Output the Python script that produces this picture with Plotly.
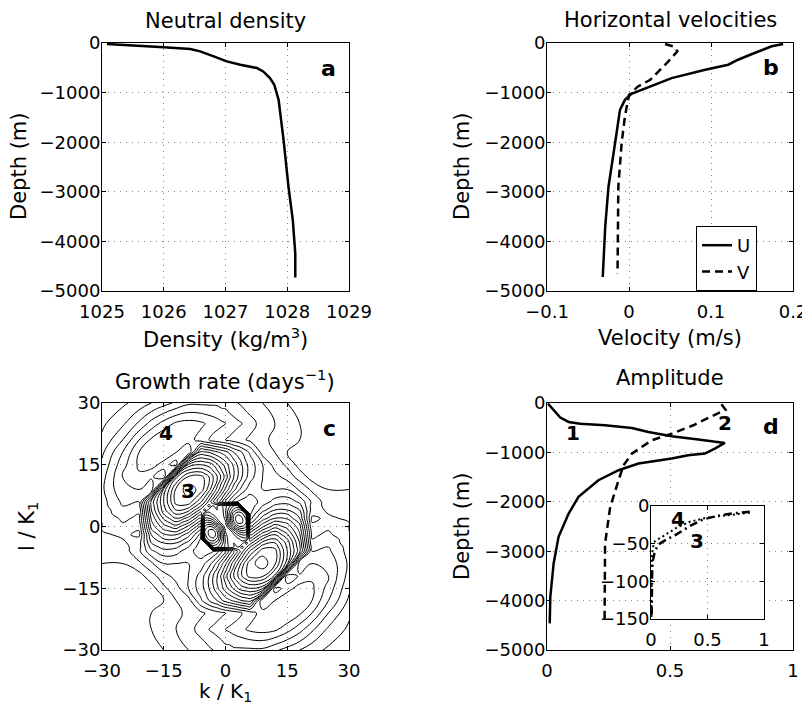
import plotly.graph_objects as go

# ---- panel a: neutral density profile
depth_a = [-20, -47, -88, -121, -168, -270, -370, -438, -505, -573, -708, -842,
           -1146, -1954, -2898, -3571, -4245, -4730]
density = [1025.08, 1025.51, 1026.0, 1026.43, 1026.59, 1026.81, 1027.02, 1027.24,
           1027.51, 1027.61, 1027.72, 1027.79, 1027.86, 1027.94, 1028.02, 1028.09,
           1028.13, 1028.13]

# ---- panel b: horizontal velocities
depth_u = [-20, -67, -202, -337, -438, -539, -708, -910, -1024, -1146, -1348, -2022,
           -2898, -3706, -4717]
u_vel = [0.188, 0.174, 0.153, 0.133, 0.121, 0.093, 0.052, 0.020, 0.003, -0.005,
         -0.011, -0.017, -0.025, -0.029, -0.032]
depth_v = [-20, -67, -168, -371, -741, -876, -1045, -1482, -2022, -2898, -4650]
v_vel = [0.044, 0.054, 0.059, 0.048, 0.026, 0.011, 0.000, -0.005, -0.009, -0.013, -0.014]

# ---- panel c: growth rate on the (k, l) plane
k_grid = [-30, -25, -21, -18, -15, -12, -9, -6, -5, -4, -3, -2, -1, 0,
          1, 2, 3, 4, 5, 6, 9, 12, 15, 18, 21, 25, 30]
l_grid = [-30, -25, -21, -18, -15, -12, -9, -6, -5, -4, -3, -2, -1, 0,
          1, 2, 3, 4, 5, 6, 9, 12, 15, 18, 21, 25, 30]
growth = [
    [0.08, 0.08, 0.09, 0.09, 0.10, 0.12, 0.15, 0.17, 0.18, 0.19, 0.20, 0.21, 0.22, 0.23, 0.23, 0.24, 0.24, 0.24, 0.24, 0.24, 0.24, 0.21, 0.18, 0.15, 0.12, 0.09, 0.08],
    [0.08, 0.08, 0.09, 0.10, 0.12, 0.15, 0.18, 0.22, 0.23, 0.25, 0.26, 0.27, 0.28, 0.30, 0.31, 0.32, 0.33, 0.34, 0.35, 0.36, 0.37, 0.36, 0.32, 0.27, 0.21, 0.14, 0.09],
    [0.08, 0.08, 0.09, 0.10, 0.12, 0.14, 0.16, 0.19, 0.20, 0.21, 0.22, 0.23, 0.24, 0.25, 0.26, 0.27, 0.28, 0.30, 0.31, 0.33, 0.37, 0.39, 0.40, 0.36, 0.30, 0.20, 0.11],
    [0.08, 0.08, 0.08, 0.09, 0.10, 0.15, 0.18, 0.29, 0.32, 0.35, 0.38, 0.40, 0.44, 0.47, 0.49, 0.51, 0.53, 0.55, 0.56, 0.57, 0.30, 0.35, 0.39, 0.39, 0.35, 0.25, 0.14],
    [0.08, 0.08, 0.08, 0.08, 0.14, 0.18, 0.25, 0.33, 0.36, 0.40, 0.44, 0.49, 0.53, 0.58, 0.62, 0.66, 0.70, 0.73, 0.74, 0.75, 0.72, 0.27, 0.33, 0.37, 0.36, 0.28, 0.16],
    [0.09, 0.09, 0.08, 0.13, 0.18, 0.22, 0.25, 0.32, 0.36, 0.40, 0.45, 0.50, 0.56, 0.63, 0.69, 0.75, 0.80, 0.85, 0.89, 0.92, 0.91, 0.79, 0.25, 0.31, 0.34, 0.30, 0.18],
    [0.10, 0.10, 0.14, 0.19, 0.25, 0.25, 0.25, 0.27, 0.30, 0.33, 0.37, 0.42, 0.48, 0.54, 0.61, 0.68, 0.75, 0.82, 0.88, 0.93, 0.98, 0.91, 0.72, 0.25, 0.30, 0.29, 0.19],
    [0.11, 0.12, 0.19, 0.29, 0.33, 0.32, 0.27, 0.22, 0.22, 0.23, 0.25, 0.28, 0.33, 0.40, 0.47, 0.54, 0.61, 0.68, 0.75, 0.81, 0.93, 0.92, 0.75, 0.57, 0.25, 0.26, 0.18],
    [0.12, 0.13, 0.18, 0.32, 0.37, 0.36, 0.30, 0.22, 0.21, 0.20, 0.91, 0.90, 0.84, 0.78, 0.73, 0.70, 0.70, 0.63, 0.69, 0.75, 0.88, 0.89, 0.74, 0.56, 0.23, 0.25, 0.18],
    [0.12, 0.14, 0.18, 0.35, 0.40, 0.40, 0.33, 0.23, 0.20, 0.99, 1.01, 0.97, 0.89, 0.79, 0.72, 0.70, 0.71, 0.73, 0.63, 0.68, 0.82, 0.85, 0.73, 0.55, 0.21, 0.24, 0.17],
    [0.13, 0.15, 0.16, 0.38, 0.45, 0.45, 0.38, 0.25, 0.99, 1.07, 1.09, 1.04, 0.92, 0.79, 0.71, 0.71, 0.74, 0.77, 0.78, 0.61, 0.75, 0.80, 0.70, 0.53, 0.20, 0.23, 0.17],
    [0.14, 0.16, 0.14, 0.40, 0.49, 0.50, 0.42, 0.28, 1.04, 1.11, 1.14, 1.07, 0.92, 0.77, 0.70, 0.74, 0.81, 0.85, 0.85, 0.54, 0.68, 0.75, 0.66, 0.51, 0.19, 0.21, 0.16],
    [0.15, 0.18, 0.15, 0.44, 0.54, 0.57, 0.48, 0.33, 1.05, 1.11, 1.12, 1.04, 0.90, 0.74, 0.72, 0.82, 0.91, 0.95, 0.93, 0.47, 0.61, 0.69, 0.62, 0.49, 0.18, 0.20, 0.15],
    [0.15, 0.19, 0.16, 0.47, 0.58, 0.63, 0.54, 0.40, 1.00, 1.05, 1.03, 0.95, 0.84, 0.70, 0.84, 0.95, 1.03, 1.05, 1.00, 0.40, 0.54, 0.63, 0.58, 0.47, 0.16, 0.19, 0.15],
    [0.15, 0.20, 0.18, 0.49, 0.62, 0.69, 0.61, 0.47, 0.93, 0.95, 0.91, 0.82, 0.72, 0.74, 0.90, 1.04, 1.12, 1.11, 1.05, 0.33, 0.48, 0.57, 0.54, 0.44, 0.15, 0.18, 0.15],
    [0.16, 0.21, 0.19, 0.51, 0.66, 0.75, 0.68, 0.54, 0.85, 0.85, 0.81, 0.74, 0.70, 0.77, 0.92, 1.07, 1.14, 1.11, 1.04, 0.28, 0.42, 0.50, 0.49, 0.40, 0.14, 0.16, 0.14],
    [0.17, 0.23, 0.20, 0.53, 0.70, 0.80, 0.75, 0.61, 0.78, 0.77, 0.74, 0.71, 0.71, 0.79, 0.92, 1.04, 1.09, 1.07, 0.99, 0.25, 0.38, 0.45, 0.45, 0.38, 0.16, 0.15, 0.13],
    [0.17, 0.24, 0.21, 0.55, 0.73, 0.85, 0.82, 0.68, 0.63, 0.73, 0.71, 0.70, 0.72, 0.79, 0.89, 0.97, 1.01, 0.99, 0.20, 0.23, 0.33, 0.40, 0.40, 0.35, 0.18, 0.14, 0.12],
    [0.18, 0.25, 0.23, 0.56, 0.74, 0.89, 0.88, 0.75, 0.69, 0.63, 0.70, 0.70, 0.73, 0.78, 0.84, 0.90, 0.91, 0.20, 0.21, 0.22, 0.30, 0.36, 0.37, 0.32, 0.18, 0.13, 0.12],
    [0.18, 0.26, 0.25, 0.57, 0.75, 0.92, 0.93, 0.81, 0.75, 0.68, 0.61, 0.54, 0.47, 0.40, 0.33, 0.28, 0.25, 0.23, 0.22, 0.22, 0.27, 0.32, 0.33, 0.29, 0.19, 0.12, 0.11],
    [0.19, 0.29, 0.30, 0.25, 0.72, 0.91, 0.98, 0.93, 0.88, 0.82, 0.75, 0.68, 0.61, 0.54, 0.48, 0.42, 0.37, 0.33, 0.30, 0.27, 0.25, 0.25, 0.25, 0.19, 0.14, 0.10, 0.10],
    [0.18, 0.30, 0.34, 0.31, 0.25, 0.79, 0.91, 0.92, 0.89, 0.85, 0.80, 0.75, 0.69, 0.63, 0.56, 0.50, 0.45, 0.40, 0.36, 0.32, 0.25, 0.22, 0.18, 0.13, 0.08, 0.09, 0.09],
    [0.16, 0.28, 0.36, 0.37, 0.33, 0.27, 0.72, 0.75, 0.74, 0.73, 0.70, 0.66, 0.62, 0.58, 0.53, 0.49, 0.44, 0.40, 0.36, 0.33, 0.25, 0.18, 0.14, 0.08, 0.08, 0.08, 0.08],
    [0.14, 0.25, 0.35, 0.39, 0.39, 0.35, 0.30, 0.57, 0.56, 0.55, 0.53, 0.51, 0.49, 0.47, 0.44, 0.40, 0.38, 0.35, 0.32, 0.29, 0.18, 0.15, 0.10, 0.09, 0.08, 0.08, 0.08],
    [0.11, 0.20, 0.30, 0.36, 0.40, 0.39, 0.37, 0.33, 0.31, 0.30, 0.28, 0.27, 0.26, 0.25, 0.24, 0.23, 0.22, 0.21, 0.20, 0.19, 0.16, 0.14, 0.12, 0.10, 0.09, 0.08, 0.08],
    [0.09, 0.14, 0.21, 0.27, 0.32, 0.36, 0.37, 0.36, 0.35, 0.34, 0.33, 0.32, 0.31, 0.30, 0.28, 0.27, 0.26, 0.25, 0.23, 0.22, 0.18, 0.15, 0.12, 0.10, 0.09, 0.08, 0.08],
    [0.08, 0.09, 0.12, 0.15, 0.18, 0.21, 0.24, 0.24, 0.24, 0.24, 0.24, 0.24, 0.23, 0.23, 0.22, 0.21, 0.20, 0.19, 0.18, 0.17, 0.15, 0.12, 0.10, 0.09, 0.09, 0.08, 0.08],
]

# ---- panel d: mode amplitudes
depth_m1 = [-13, -148, -296, -384, -418, -451, -505, -586, -674, -741, -809, -923, -1024,
            -1058, -1125, -1226, -1361, -1563, -1900, -2237, -2709, -3248, -3922, -4461]
amp_m1 = [0.004, 0.027, 0.054, 0.088, 0.135, 0.236, 0.345, 0.412, 0.507, 0.615, 0.723,
          0.682, 0.642, 0.574, 0.507, 0.372, 0.291, 0.209, 0.128, 0.088, 0.047, 0.027,
          0.0135, 0.011]
depth_m2 = [-27, -135, -270, -451, -620, -755, -1024, -1260, -1563, -2102, -2844, -3652, -4461]
amp_m2 = [0.709, 0.726, 0.669, 0.595, 0.507, 0.426, 0.345, 0.311, 0.291, 0.257, 0.236,
          0.234, 0.234]

# inset: modes 3 and 4 near the surface
depth_m3 = [-7.5, -9.8, -13.3, -17.8, -26.6, -37.7, -44.4, -51, -60, -73, -95, -149]
amp_m3 = [0.874, 0.726, 0.579, 0.462, 0.344, 0.226, 0.138, 0.065, 0.035, 0.015, 0.009, 0.006]
depth_m4 = [-8.9, -12, -15.5, -20.9, -28.9, -40, -46.6, -55.5, -73, -149]
amp_m4 = [0.874, 0.668, 0.491, 0.344, 0.226, 0.109, 0.035, 0.015, 0.006, 0.003]

FONT = "DejaVu Sans"
# the page body adds an 8px margin, so the figure is 8px smaller and shifted
OFF = 8
W, H = 810 - OFF, 708 - OFF


def px_x(p):
    return (p - OFF) / W


def px_y(p):
    return 1 - (p - OFF) / H


fig = go.Figure()

line_kw = dict(color="black", width=2.5)
fig.add_trace(go.Scatter(x=density, y=depth_a, mode="lines", line=line_kw,
                         showlegend=False, xaxis="x", yaxis="y"))
fig.add_trace(go.Scatter(x=u_vel, y=depth_u, mode="lines", line=line_kw,
                         name="U", xaxis="x2", yaxis="y2"))
fig.add_trace(go.Scatter(x=v_vel, y=depth_v, mode="lines",
                         line=dict(color="black", width=2.5, dash="8px,5px"),
                         name="V", xaxis="x2", yaxis="y2"))
fig.add_trace(go.Contour(x=k_grid, y=l_grid, z=growth,
                         contours=dict(start=0.1, end=1.1, size=0.05, coloring="lines"),
                         line=dict(width=1, smoothing=1.3),
                         colorscale=[[0, "black"], [1, "black"]],
                         showscale=False, hoverinfo="skip",
                         xaxis="x3", yaxis="y3"))
fig.add_trace(go.Scatter(x=amp_m1, y=depth_m1, mode="lines", line=line_kw,
                         showlegend=False, xaxis="x4", yaxis="y4"))
fig.add_trace(go.Scatter(x=amp_m2, y=depth_m2, mode="lines",
                         line=dict(color="black", width=2.5, dash="8px,5px"),
                         showlegend=False, xaxis="x4", yaxis="y4"))
fig.add_trace(go.Scatter(x=amp_m3, y=depth_m3, mode="lines",
                         line=dict(color="black", width=2.5, dash="8px,4px,2px,4px"),
                         showlegend=False, xaxis="x5", yaxis="y5"))
fig.add_trace(go.Scatter(x=amp_m4, y=depth_m4, mode="lines",
                         line=dict(color="black", width=2, dash="2px,3px"),
                         showlegend=False, xaxis="x5", yaxis="y5"))

axis_kw = dict(showline=True, linecolor="black", linewidth=1, mirror="ticks",
               ticks="inside", ticklen=4, tickcolor="black", automargin=False,
               showgrid=True, gridcolor="#808080", gridwidth=1, griddash="1px,5px",
               zeroline=False, tickfont=dict(family=FONT, size=18, color="black"))
xkw = dict(axis_kw, ticklabelstandoff=4)
ykw = dict(axis_kw, ticklabelstandoff=-3)

depth_ticks = [0, -1000, -2000, -3000, -4000, -5000]
depth_text = ["0", "−1000", "−2000", "−3000", "−4000", "−5000"]
kl_ticks = [-30, -15, 0, 15, 30]
kl_text = ["−30", "−15", "0", "15", "30"]

dom_x_left = [px_x(102), px_x(349)]
dom_x_right = [px_x(547), px_x(793)]
dom_y_top = [px_y(291), px_y(43)]
dom_y_bot = [px_y(650), px_y(403)]

fig.update_layout(
    width=W, height=H,
    margin=dict(l=0, r=0, t=0, b=0),
    paper_bgcolor="white", plot_bgcolor="white",
    font=dict(family=FONT, color="black"),
    xaxis=dict(xkw, domain=dom_x_left, anchor="y", range=[1025, 1029],
               tickvals=[1025, 1026, 1027, 1028, 1029]),
    yaxis=dict(ykw, domain=dom_y_top, anchor="x", range=[-5000, 0],
               tickvals=depth_ticks, ticktext=depth_text),
    xaxis2=dict(xkw, domain=dom_x_right, anchor="y2", range=[-0.1, 0.2],
                tickvals=[-0.1, 0, 0.1, 0.2], ticktext=["−0.1", "0", "0.1", "0.2"]),
    yaxis2=dict(ykw, domain=dom_y_top, anchor="x2", range=[-5000, 0],
                tickvals=depth_ticks, ticktext=depth_text),
    xaxis3=dict(xkw, domain=dom_x_left, anchor="y3", range=[-30, 30],
                tickvals=kl_ticks, ticktext=kl_text),
    yaxis3=dict(ykw, domain=dom_y_bot, anchor="x3", range=[-30, 30],
                tickvals=kl_ticks, ticktext=kl_text),
    xaxis4=dict(xkw, domain=dom_x_right, anchor="y4", range=[0, 1],
                tickvals=[0, 0.5, 1], ticktext=["0", "0.5", "1"]),
    yaxis4=dict(ykw, domain=dom_y_bot, anchor="x4", range=[-5000, 0],
                tickvals=depth_ticks, ticktext=depth_text),
    xaxis5=dict(xkw, domain=[px_x(651), px_x(764)], anchor="y5", range=[0, 1],
                tickvals=[0, 0.5, 1], ticktext=["0", "0.5", "1"]),
    yaxis5=dict(ykw, domain=[px_y(619), px_y(506)], anchor="x5", range=[-150, 0],
                tickvals=[0, -50, -100, -150], ticktext=["0", "−50", "−100", "−150"]),
    legend=dict(x=px_x(696), y=px_y(226), xanchor="left", yanchor="top",
                bordercolor="black", borderwidth=1, bgcolor="white",
                font=dict(family=FONT, size=18, color="black"),
                tracegroupgap=0, itemwidth=30),
)

ann = []


def text(s, x, y, size=21, angle=0, bold=False, xref="paper", yref="paper"):
    ann.append(dict(text="<b>%s</b>" % s if bold else s, x=x, y=y, xref=xref, yref=yref,
                    showarrow=False, textangle=angle, xanchor="center", yanchor="middle",
                    font=dict(family=FONT, size=size, color="black")))


# titles
text("Neutral density", px_x(225), px_y(21))
text("Horizontal velocities", px_x(670), px_y(20))
text("Growth rate (days<sup>−1</sup>)", px_x(225), px_y(380))
text("Amplitude", px_x(670), px_y(378))
# axis titles
text("Density (kg/m<sup>3</sup>)", px_x(225), px_y(338))
text("Velocity (m/s)", px_x(670), px_y(338))
text("k / K<sub>1</sub>", px_x(225), px_y(692), size=20)
text("Depth (m)", px_x(19), px_y(167), angle=-90)
text("Depth (m)", px_x(462), px_y(167), angle=-90)
text("l / K<sub>1</sub>", px_x(28), px_y(527), angle=-90)
text("Depth (m)", px_x(462), px_y(527), angle=-90)
# panel letters
text("a", px_x(328), px_y(68), size=22, bold=True)
text("b", px_x(771), px_y(67), size=22, bold=True)
text("c", px_x(329), px_y(428), size=22, bold=True)
text("d", px_x(771), px_y(426), size=22, bold=True)
# mode labels
text("4", -14.5, 22.7, size=20, bold=True, xref="x3", yref="y3")
text("3", -9.0, 8.7, size=20, bold=True, xref="x3", yref="y3")
text("1", 0.106, -617, size=20, bold=True, xref="x4", yref="y4")
text("2", 0.724, -395, size=20, bold=True, xref="x4", yref="y4")
text("4", 0.239, -16.6, size=20, bold=True, xref="x5", yref="y5")
text("3", 0.411, -45.8, size=20, bold=True, xref="x5", yref="y5")

fig.update_layout(annotations=ann)

fig.write_html("out.html")
